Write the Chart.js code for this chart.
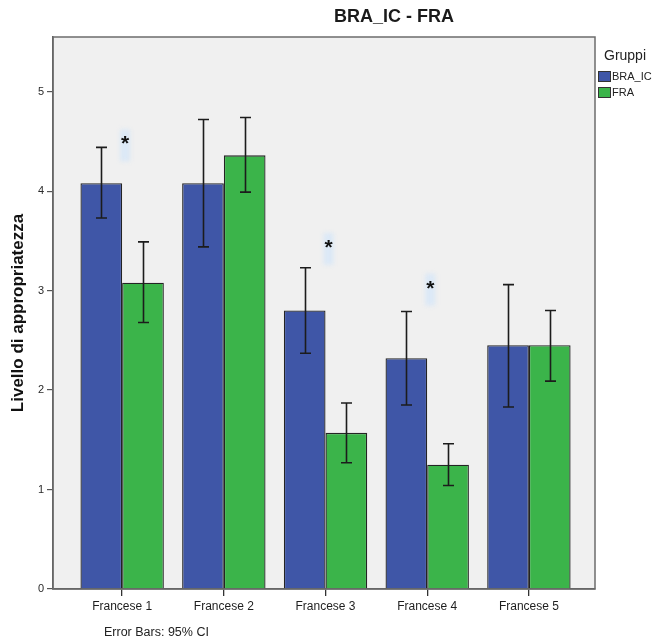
<!DOCTYPE html>
<html>
<head>
<meta charset="utf-8">
<script src="https://cdn.jsdelivr.net/npm/chart.js@4/dist/chart.umd.min.js"></script>
<style>
  html, body { margin: 0; padding: 0; background: #ffffff; }
  #wrap { width: 657px; height: 642px; }
</style>
</head>
<body>
<div id="wrap"><canvas id="c" width="657" height="642"></canvas></div>
<script>
// Categories and group means with 95% confidence limits
const categories = ['Francese 1', 'Francese 2', 'Francese 3', 'Francese 4', 'Francese 5'];
const braMean = [4.08, 4.08, 2.80, 2.32, 2.45];
const braLow  = [3.73, 3.44, 2.37, 1.85, 1.83];
const braHigh = [4.44, 4.72, 3.23, 2.79, 3.06];
const fraMean = [3.08, 4.36, 1.57, 1.25, 2.45];
const fraLow  = [2.68, 3.99, 1.27, 1.04, 2.09];
const fraHigh = [3.49, 4.74, 1.87, 1.46, 2.80];
// Significance markers (value level of the asterisk, null = none)
const starLevels = [4.53, null, 3.49, 3.08, null];
const yTicks = [0, 1, 2, 3, 4, 5];
const seriesNames = ['BRA_IC', 'FRA'];

const FONT = "'Liberation Sans', Arial, sans-serif";
const BLUE = '#3F56A7';
const GREEN = '#3BB44A';
const EDGE = '#242424';

const toPoints = arr => arr.map((v, i) => ({ x: i + 1, y: v }));
const ciLow = [braLow, fraLow];
const ciHigh = [braHigh, fraHigh];

const decorations = {
  id: 'decorations',
  beforeDraw(chart) {
    const { ctx, chartArea: a } = chart;
    ctx.save();
    ctx.fillStyle = '#ffffff';
    ctx.fillRect(0, 0, chart.width, chart.height);
    ctx.fillStyle = '#f0f0f0';
    ctx.fillRect(a.left, a.top, a.right - a.left, a.bottom - a.top);
    ctx.restore();
  },
  afterDatasetsDraw(chart) {
    const { ctx, chartArea: a, scales } = chart;
    const xs = scales.x, ys = scales.y;
    ctx.save();

    // pale highlight and asterisk above significant pairs
    starLevels.forEach((lv, i) => {
      if (lv === null) return;
      const cx = xs.getPixelForValue(i + 1) + 3;
      const cy = ys.getPixelForValue(lv);
      ctx.save();
      ctx.filter = 'blur(2px)';
      ctx.fillStyle = 'rgba(214,230,248,0.8)';
      ctx.fillRect(cx - 5, cy - 9, 10, 32);
      ctx.restore();
      ctx.fillStyle = '#111';
      ctx.font = 'bold 21px ' + FONT;
      ctx.textAlign = 'center';
      ctx.textBaseline = 'alphabetic';
      ctx.fillText('*', cx, cy + 12);
    });

    // 95% CI whiskers
    chart.data.datasets.forEach((ds, d) => {
      const meta = chart.getDatasetMeta(d);
      meta.data.forEach((bar, i) => {
        const x = Math.round(bar.x) + 0.5;
        const yH = ys.getPixelForValue(ciHigh[d][i]);
        const yL = ys.getPixelForValue(ciLow[d][i]);
        ctx.strokeStyle = '#1c1c1c';
        ctx.lineWidth = 1.6;
        ctx.beginPath();
        ctx.moveTo(x, yH); ctx.lineTo(x, yL);
        ctx.moveTo(x - 5.5, yH); ctx.lineTo(x + 5.5, yH);
        ctx.moveTo(x - 5.5, yL); ctx.lineTo(x + 5.5, yL);
        ctx.stroke();
      });
    });

    // plot frame
    ctx.strokeStyle = '#6c6c6c';
    ctx.lineWidth = 1.5;
    ctx.strokeRect(a.left, a.top, a.right - a.left, a.bottom - a.top);

    // title
    ctx.fillStyle = '#1a1a1a';
    ctx.font = 'bold 18px ' + FONT;
    ctx.textAlign = 'center';
    ctx.textBaseline = 'middle';
    ctx.fillText('BRA_IC - FRA', 394, 17);

    // legend
    ctx.textAlign = 'left';
    ctx.font = '14px ' + FONT;
    ctx.fillStyle = '#222';
    ctx.fillText('Gruppi', 604, 56);
    const cols = [BLUE, GREEN];
    seriesNames.forEach((name, k) => {
      const y = 71 + k * 16;
      ctx.fillStyle = cols[k];
      ctx.fillRect(598, y, 13, 11);
      ctx.strokeStyle = '#333';
      ctx.lineWidth = 1;
      ctx.strokeRect(598.5, y + 0.5, 12, 10);
      ctx.fillStyle = '#222';
      ctx.font = '11px ' + FONT;
      ctx.fillText(name, 612, y + 6);
    });

    // footnote
    ctx.font = '12.5px ' + FONT;
    ctx.fillStyle = '#222';
    ctx.fillText('Error Bars: 95% CI', 104, 633);
    ctx.restore();
  }
};

new Chart(document.getElementById('c'), {
  type: 'bar',
  data: {
    datasets: [
      { label: seriesNames[0], data: toPoints(braMean), backgroundColor: BLUE,
        borderColor: EDGE, borderWidth: 1.3, categoryPercentage: 0.82, barPercentage: 1 },
      { label: seriesNames[1], data: toPoints(fraMean), backgroundColor: GREEN,
        borderColor: EDGE, borderWidth: 1.3, categoryPercentage: 0.82, barPercentage: 1 }
    ]
  },
  options: {
    responsive: false,
    animation: false,
    devicePixelRatio: 1,
    layout: { padding: { top: 37, right: 62, left: 0, bottom: 0 } },
    plugins: { legend: { display: false }, tooltip: { enabled: false }, title: { display: false } },
    scales: {
      x: {
        type: 'linear',
        min: 0.32,
        max: 5.65,
        offset: false,
        afterBuildTicks: ax => { ax.ticks = categories.map((c, i) => ({ value: i + 1 })); },
        afterFit: ax => { ax.height = 53; },
        ticks: {
          callback: v => categories[Math.round(v) - 1],
          font: { family: FONT, size: 12 }, color: '#1e1e1e', padding: 3,
          autoSkip: false, maxRotation: 0
        },
        grid: { offset: false, drawOnChartArea: false, tickLength: 7, color: '#333', lineWidth: 1.3 },
        border: { color: '#555', width: 1.5 }
      },
      y: {
        type: 'linear',
        min: 0,
        max: 5.55,
        afterBuildTicks: ax => { ax.ticks = yTicks.map(v => ({ value: v })); },
        afterFit: ax => { ax.width = 53; },
        ticks: { font: { family: FONT, size: 11 }, color: '#2a2a2a', padding: 3 },
        grid: { drawOnChartArea: false, tickLength: 6, color: '#555', lineWidth: 1.2 },
        border: { color: '#555', width: 1.5 },
        title: {
          display: true, text: 'Livello di appropriatezza', color: '#111',
          font: { family: FONT, size: 17, weight: 'bold' }, padding: { top: 8, bottom: 0 }
        }
      }
    }
  },
  plugins: [decorations]
});
</script>
</body>
</html>
